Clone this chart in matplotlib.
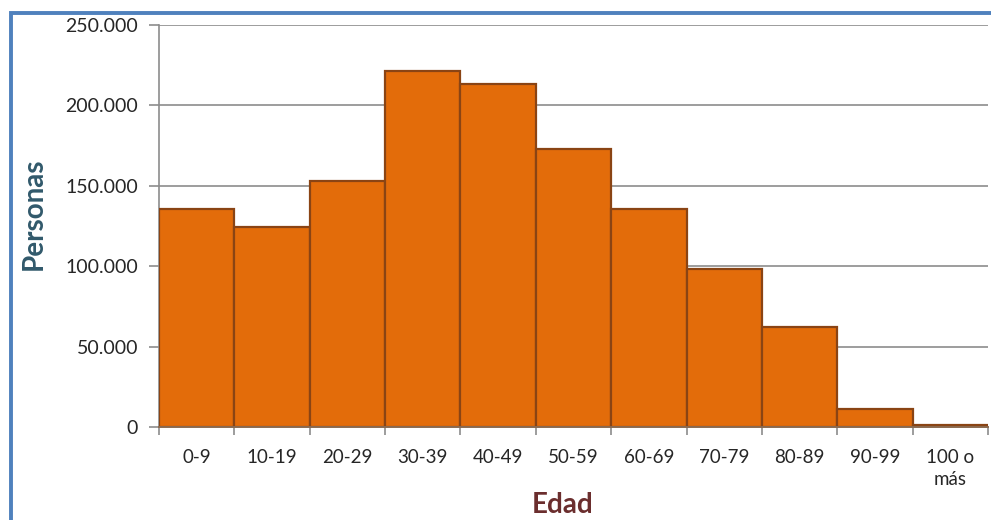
import matplotlib.pyplot as plt
import matplotlib.patches as mpatches
import numpy as np

edades = ['0-9', '10-19', '20-29', '30-39', '40-49', '50-59',
          '60-69', '70-79', '80-89', '90-99', '100 o\nmás']
personas = [135500, 124500, 153000, 221500, 213500, 173000,
            135500, 98500, 62000, 11500, 1300]
yticks = [0, 50000, 100000, 150000, 200000, 250000]
ytick_labels = ['0', '50.000', '100.000', '150.000', '200.000', '250.000']

plt.rcParams['font.family'] = ['Lato', 'DejaVu Sans']

fig = plt.figure(figsize=(9.91, 5.2), dpi=100)
ax = fig.add_axes([159 / 991, 1 - 427 / 520, 829 / 991, 402 / 520])

x = np.arange(len(edades))
ax.bar(x, personas, width=1.0, color='#E36C0A', edgecolor='#8A4414',
       linewidth=1.6, zorder=3)

ax.set_xlim(-0.5, len(edades) - 0.5)
ax.set_ylim(0, 250000)
ax.set_yticks(yticks)
ax.set_yticklabels(ytick_labels, fontsize=14, color='#262626')
ax.yaxis.grid(True, color='#8C8C8C', linewidth=1.2, zorder=0)

# ticks at bar boundaries, labels at bar centres
ax.set_xticks(np.arange(len(edades) + 1) - 0.5)
ax.set_xticklabels([])
ax.set_xticks(x, minor=True)
ax.set_xticklabels(edades, minor=True, fontsize=13.5, color='#262626',
                   va='top', linespacing=1.35)
ax.tick_params(axis='x', which='minor', length=0, pad=16)
ax.tick_params(axis='x', which='major', length=6, color='#8C8C8C', width=1.2)
ax.tick_params(axis='y', length=7, color='#8C8C8C', width=1.2, pad=8)

for side in ['top', 'right']:
    ax.spines[side].set_visible(False)
ax.spines['left'].set_color('#8C8C8C')
ax.spines['left'].set_linewidth(1.2)
ax.spines['bottom'].set_color('#8A6A50')
ax.spines['bottom'].set_linewidth(1.4)
ax.spines['bottom'].set_zorder(4)

fig.text(34 / 991, 1 - 214 / 520, 'Personas', rotation=90, ha='center',
         va='center', fontsize=20, fontweight='bold', color='#31596B')
fig.text(563 / 991, 1 - 505 / 520, 'Edad', ha='center', va='center',
         fontsize=20, fontweight='bold', color='#6B2E2E')

# blue frame around the chart
frame = mpatches.Rectangle((11 / 991, -0.1), 1.2, 1 - 13 / 520 + 0.1,
                           transform=fig.transFigure, fill=False,
                           edgecolor='#4F81BD', linewidth=2.8)
fig.patches.append(frame)

fig.savefig('out.png', dpi=100)
